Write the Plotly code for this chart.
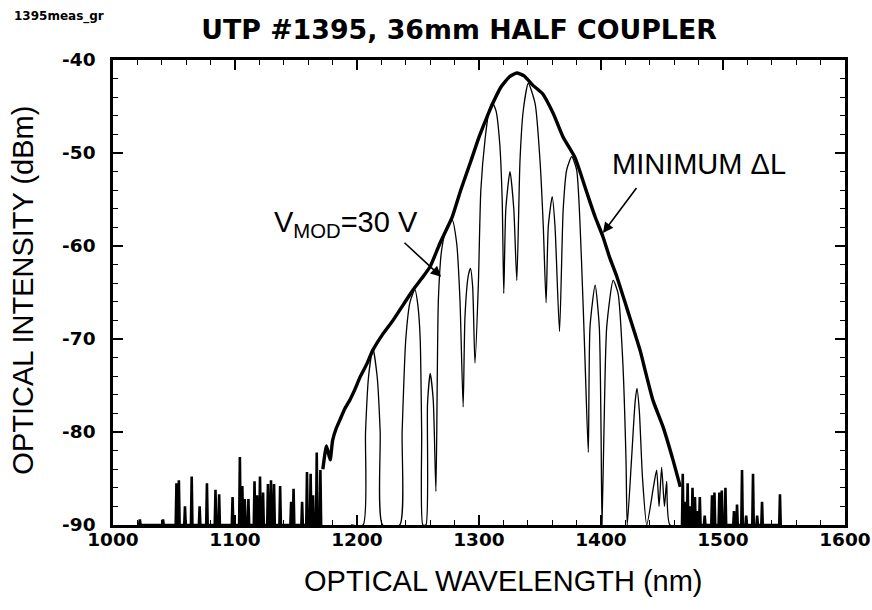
import plotly.graph_objects as go

# Broadband envelope at minimum path-length difference (thick trace)
env_wl = [1172, 1175, 1178, 1180, 1183, 1186, 1190, 1194, 1198, 1202.5, 1208, 1213,
          1221, 1229.5, 1238, 1246, 1253, 1260, 1268, 1278, 1285, 1293, 1300, 1306,
          1311.5, 1318, 1325, 1331, 1337, 1344, 1352, 1360.7, 1369, 1378.7, 1388.5,
          1395, 1401.6, 1407, 1413, 1421, 1432, 1437, 1442.6, 1451, 1459, 1465]
env_db = [-84, -81.5, -83, -80.9, -79.6, -78.7, -77.5, -76.6, -75.5, -74.1, -72.7, -71.2,
          -69.5, -68, -66.3, -64.7, -63.5, -62.2, -59.7, -56.9, -54, -51, -48.3, -46.3,
          -44.6, -42.9, -41.8, -41.4, -41.7, -42.7, -43.6, -45.7, -48.3, -50.5, -54.3,
          -56.8, -59.0, -61.2, -63.3, -66.6, -71.2, -73.8, -76.6, -79.5, -83, -85.9]

# Noise-floor spikes on either side of the band
left_noise_wl = [1022, 1041, 1052, 1054, 1059, 1064.5, 1071, 1077, 1084, 1087, 1098, 1104,
                 1106, 1108, 1111, 1116, 1118, 1120.5, 1123, 1127, 1129.5, 1132, 1137,
                 1146, 1148, 1155, 1159, 1162, 1164, 1167, 1170]
left_noise_db = [-89.4, -89.4, -85.5, -85.2, -88, -84.8, -88, -85.5, -86.2, -86.7, -87, -82.7,
                 -85.8, -87.2, -87.2, -85.3, -86.8, -84.8, -86.5, -85.6, -85.2, -85.6, -85.8,
                 -87.5, -86.1, -87.5, -84.3, -84.5, -86.8, -82.2, -84.1]
right_noise_wl = [1467, 1469, 1471, 1473, 1475, 1477, 1479, 1481, 1485, 1491, 1493, 1497,
                  1499, 1502, 1509, 1511.5, 1515.6, 1519, 1524.6, 1528, 1532, 1546.7]
right_noise_db = [-84.5, -87.5, -85.5, -88, -86, -87, -88.5, -87, -89, -86.8, -86.5, -86.5,
                  -86.3, -86, -88.5, -87.8, -84.1, -89, -84.5, -89, -87.5, -86.7]

# Modulated spectrum at V_MOD = 30 V (thin trace)
mod_wl = [1195, 1205, 1207, 1209.5, 1213, 1216.5, 1219, 1221,
          1235, 1237, 1240, 1243.5, 1247.5, 1250, 1251.8, 1253, 1254,
          1256.5, 1257.8, 1260, 1262.5, 1264.7,
          1266.7, 1269.4, 1273.5, 1278, 1281.7, 1284.4, 1287,
          1288.5, 1291.2, 1293, 1294.8, 1296.7,
          1299.5, 1301.5, 1305, 1308.5, 1311, 1314, 1317, 1319, 1320.3,
          1322, 1325.4, 1328.5, 1331,
          1333.6, 1336.3, 1340.4, 1346, 1350, 1352.7, 1355,
          1356.8, 1360, 1362.3, 1366,
          1369, 1371.9, 1376, 1380, 1384, 1386.9, 1389.6,
          1391, 1395.2, 1398.6, 1400, 1400.8,
          1402.5, 1404.7, 1410, 1414, 1417.8, 1420.5, 1421.5,
          1425, 1428, 1429.5, 1431.4, 1434, 1437.5,
          1443, 1445.6, 1447.6, 1449.7, 1452, 1453.8, 1456.5, 1470]
mod_db = [-90, -90, -80, -74, -71, -74, -80, -90,
          -90, -80, -70, -66, -64.7, -66.5, -70, -80, -90,
          -90, -77, -73.7, -76.6, -86.4,
          -65.8, -60.4, -58, -57.2, -59.7, -65.8, -77.3,
          -67.6, -63.2, -62.4, -64.4, -72.6,
          -64, -54, -48.5, -45.3, -44.6, -45.5, -49, -55, -65.1,
          -56, -52, -56, -63.7,
          -50.8, -45.4, -42.5, -44.7, -50.8, -57.9, -66.1,
          -57.9, -54.7, -57.9, -69.2,
          -56.1, -51.8, -50.4, -51.8, -61.5, -72.3, -82.2,
          -68.7, -64.2, -68.7, -79.4, -90,
          -79.4, -68.7, -63.7, -65.1, -72.3, -83, -90,
          -83, -76.7, -75.3, -77.7, -84.9, -90,
          -85.9, -84.1, -88, -83.8, -88, -85.3, -90, -90]

# Axis tick values and their labels (plain hyphen for negatives)
x_ticks = [1000, 1100, 1200, 1300, 1400, 1500, 1600]
x_labels = ["1000", "1100", "1200", "1300", "1400", "1500", "1600"]
y_ticks = [-90, -80, -70, -60, -50, -40]
y_labels = ["-90", "-80", "-70", "-60", "-50", "-40"]

FLOOR = -90


def spikes(wl, db, half=0.6):
    xs, ys = [], []
    for w, d in zip(wl, db):
        xs += [w - half, w, w + half]
        ys += [FLOOR, d, FLOOR]
    return xs, ys


fig = go.Figure()

fig.add_trace(go.Scatter(x=mod_wl, y=mod_db, mode="lines",
                         line=dict(color="black", width=1.3, shape="spline", smoothing=0.6),
                         hoverinfo="skip", showlegend=False))
fig.add_trace(go.Scatter(x=env_wl, y=env_db, mode="lines",
                         line=dict(color="black", width=3.4, shape="spline", smoothing=0.5),
                         hoverinfo="skip", showlegend=False))
for nwl, ndb in ((left_noise_wl, left_noise_db), (right_noise_wl, right_noise_db)):
    sx, sy = spikes(nwl, ndb)
    fig.add_trace(go.Scatter(x=sx, y=sy, mode="lines", line=dict(color="black", width=2.6),
                             hoverinfo="skip", showlegend=False))

SANS = "Liberation Sans, Arial, Helvetica, sans-serif"
WIDE = "DejaVu Sans, Verdana, sans-serif"
tick_font = dict(family=WIDE, size=18.5, color="black", weight="bold")
label_font = dict(family=SANS, size=29, color="black")

fig.update_xaxes(range=[1000, 1600], tickmode="array", tickvals=x_ticks, ticktext=x_labels,
                 automargin=False,
                 showline=True, linecolor="black", linewidth=2.5, mirror="allticks",
                 ticks="inside", ticklen=10, tickwidth=1.6, tickcolor="black",
                 minor=dict(tickmode="linear", tick0=1000, dtick=20, ticklen=5, tickwidth=1.4,
                            tickcolor="black", ticks="inside"),
                 showgrid=False, zeroline=False, tickfont=tick_font, ticklabelstandoff=-4)
fig.update_yaxes(range=[-90, -40], tickmode="array", tickvals=y_ticks, ticktext=y_labels,
                 automargin=False,
                 showline=True, linecolor="black", linewidth=2.5, mirror="allticks",
                 ticks="inside", ticklen=10, tickwidth=1.6, tickcolor="black",
                 minor=dict(tickmode="linear", tick0=-90, dtick=2, ticklen=5, tickwidth=1.4,
                            tickcolor="black", ticks="inside"),
                 showgrid=False, zeroline=False, tickfont=tick_font, ticklabelstandoff=11)

# Axis titles
fig.add_annotation(x=0.534, y=-0.12, xref="paper", yref="paper", showarrow=False,
                   text="OPTICAL WAVELENGTH (nm)", font=label_font,
                   xanchor="center", yanchor="middle")
fig.add_annotation(x=-0.1223, y=0.505, xref="paper", yref="paper", showarrow=False,
                   text="OPTICAL INTENSITY (dBm)", font=label_font, textangle=-90,
                   xanchor="center", yanchor="middle")

# Curve call-outs
fig.add_annotation(x=1269, y=-63.3, ax=1237.7, ay=-59.5, xref="x", yref="y",
                   axref="x", ayref="y", text="", showarrow=True,
                   arrowhead=2, arrowsize=1.3, arrowwidth=1.6, arrowcolor="black")
fig.add_annotation(x=1130.3, y=-57.6, xref="x", yref="y", showarrow=False,
                   text="V<sub>MOD</sub>=30 V", font=label_font,
                   xanchor="left", yanchor="middle")
fig.add_annotation(x=1401.6, y=-58.6, ax=1430, ay=-53.6, xref="x", yref="y",
                   axref="x", ayref="y", text="", showarrow=True,
                   arrowhead=2, arrowsize=1.3, arrowwidth=1.6, arrowcolor="black")
fig.add_annotation(x=1480.3, y=-51.2, xref="x", yref="y", showarrow=False,
                   text="MINIMUM ΔL", font=label_font,
                   xanchor="center", yanchor="middle")

fig.add_annotation(x=-0.138, y=1.0946, xref="paper", yref="paper", showarrow=False,
                   text="<b>1395meas_gr</b>", font=dict(family=WIDE, size=12, color="black"),
                   xanchor="left", yanchor="middle")

fig.update_layout(
    width=872, height=610,
    margin=dict(l=113, r=27, t=60, b=85),
    paper_bgcolor="white", plot_bgcolor="white",
    title=dict(text="<b>UTP #1395, 36mm HALF COUPLER</b>",
               font=dict(family=WIDE, size=26.8, color="black"),
               x=0.5264, xanchor="center", y=0.9516, yanchor="middle"),
)

fig.write_html("out.html")
